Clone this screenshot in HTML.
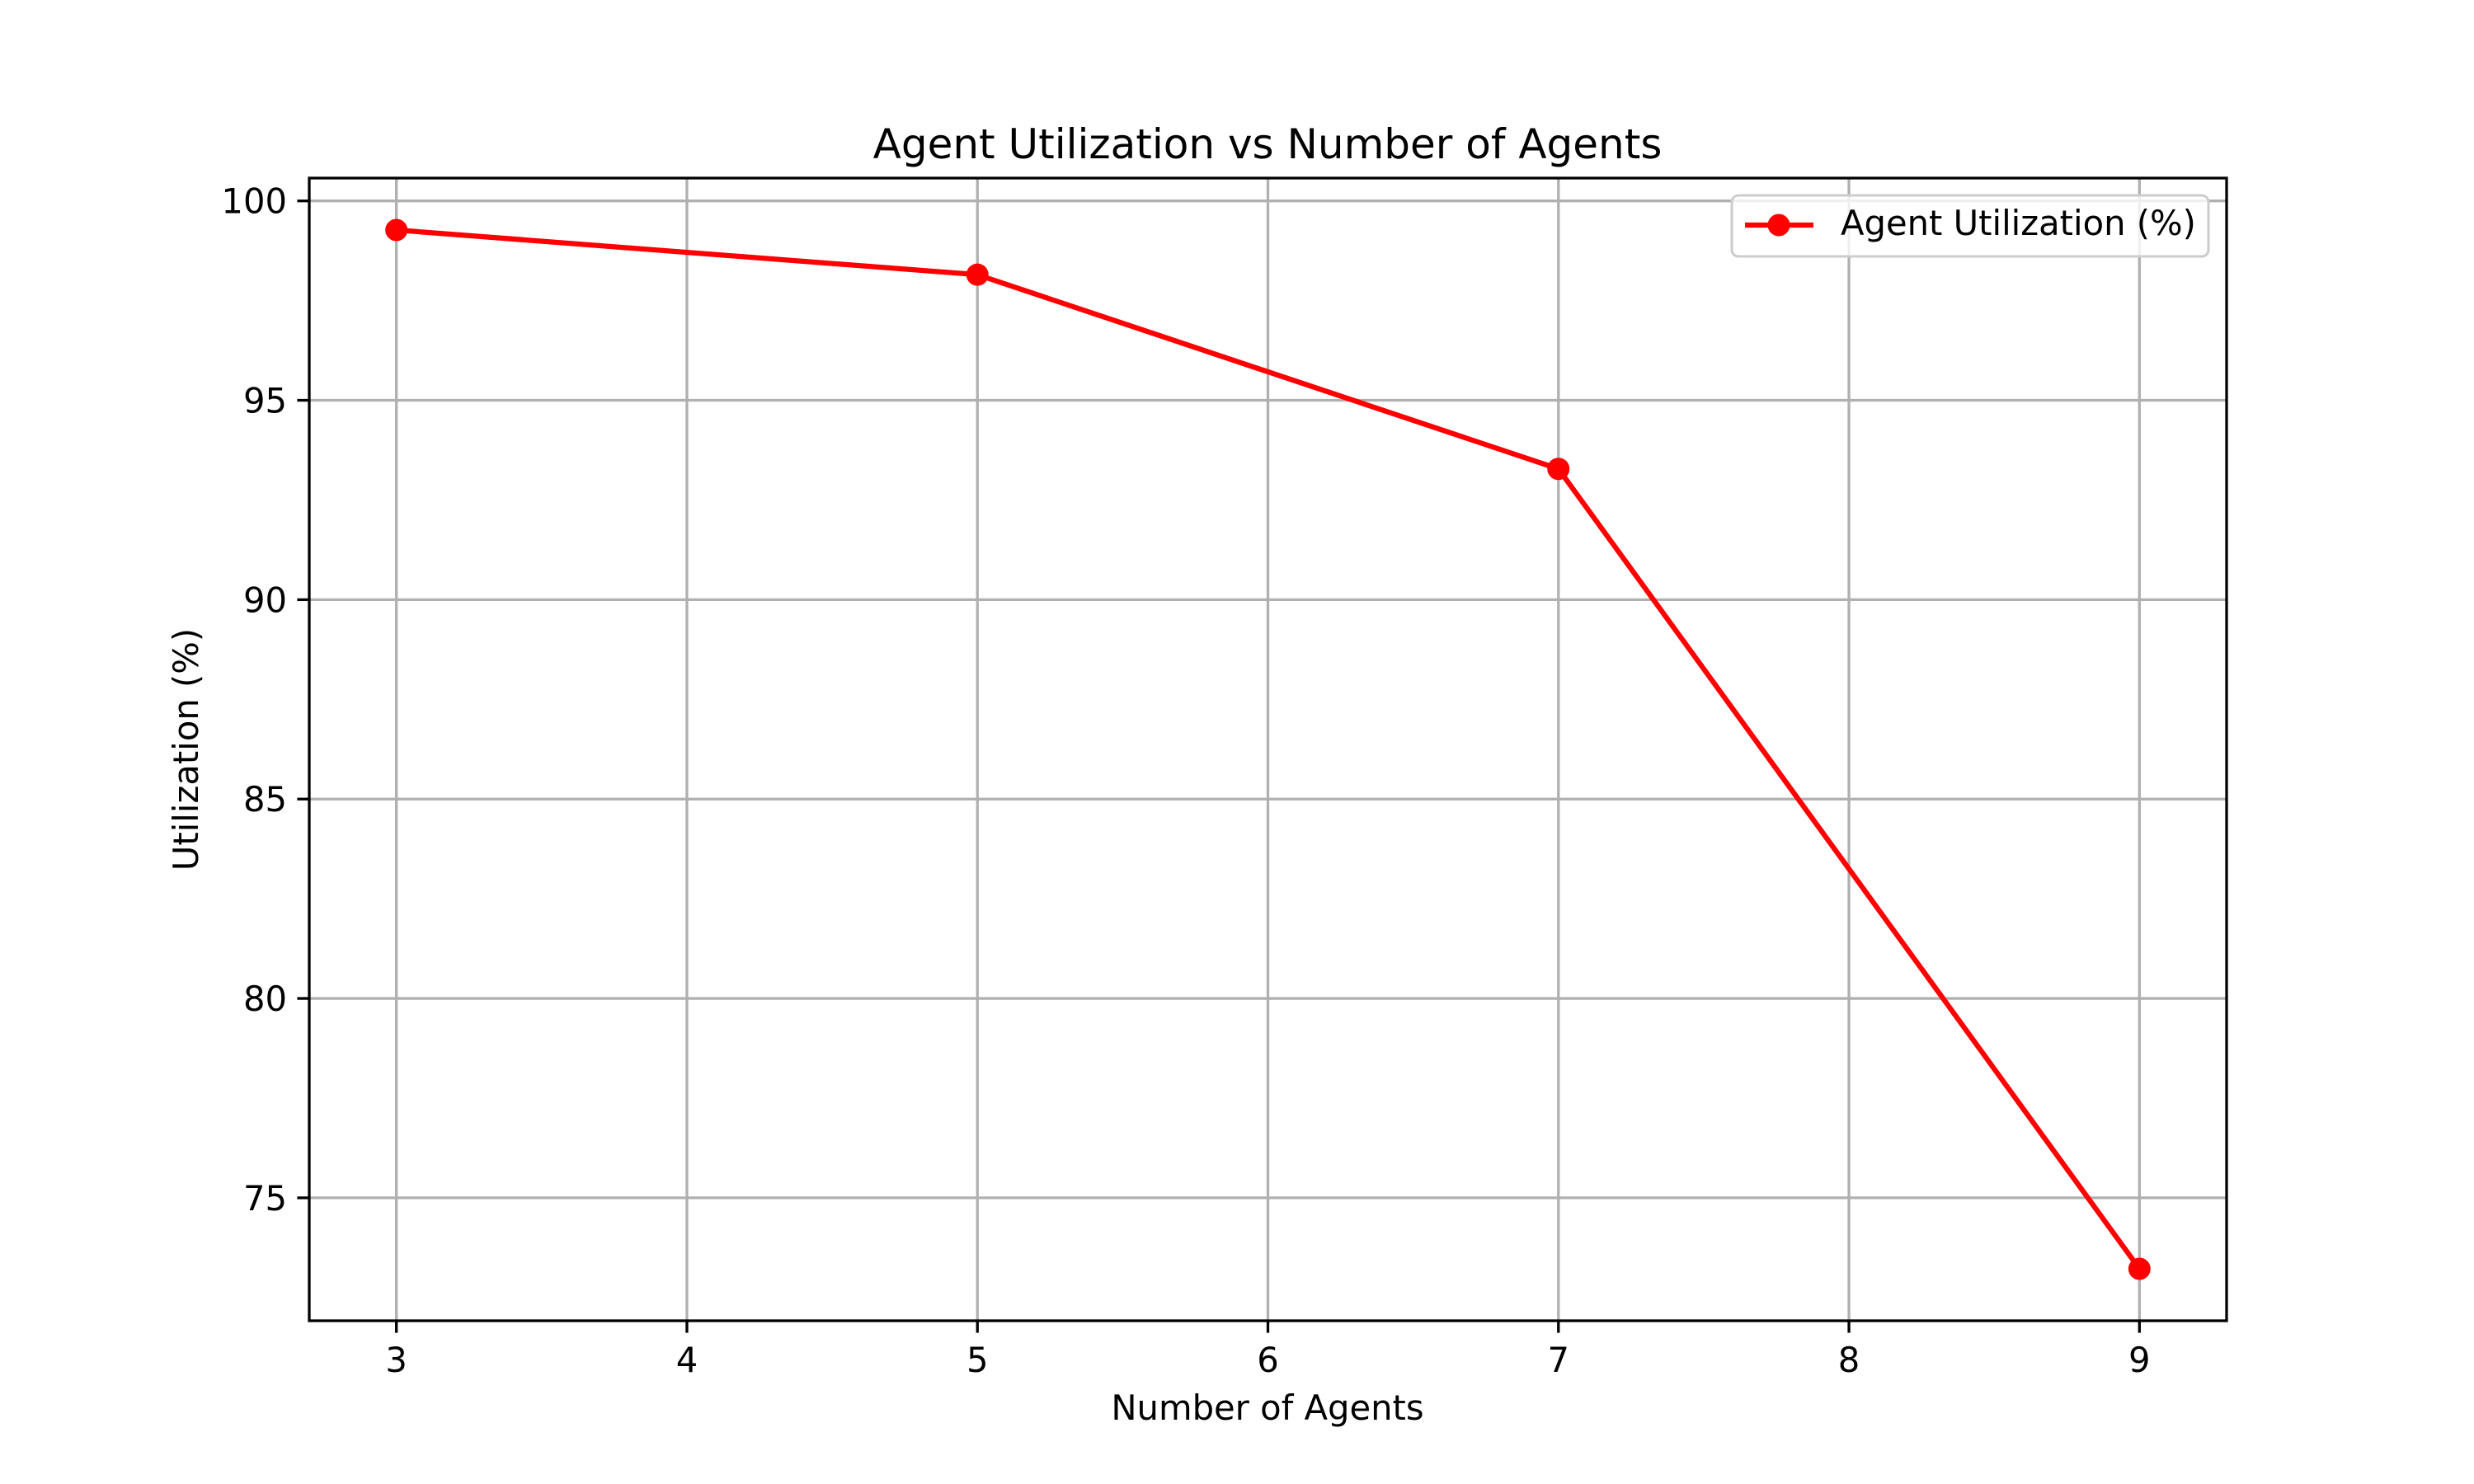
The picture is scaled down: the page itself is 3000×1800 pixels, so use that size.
<!DOCTYPE html>
<html><head><meta charset="utf-8"><style>
html,body{margin:0;padding:0;background:#fff;}
svg{display:block;font-family:"DejaVu Sans","Liberation Sans",sans-serif;}
</style></head><body>
<svg id="chart" width="3000" height="1800" viewBox="0 0 3000 1800" xmlns="http://www.w3.org/2000/svg">
<rect width="3000" height="1800" fill="#fff"/>
<g id="grid"></g>
<g id="xaxis"></g>
<g id="yaxis"></g>
<g id="series"></g>
<rect x="375" y="216" width="2325" height="1386" fill="none" stroke="#000" stroke-width="3.3"/>
<text x="1537" y="192" font-size="50" text-anchor="middle">Agent Utilization vs Number of Agents</text>
<text x="1537" y="1722" font-size="41.7" text-anchor="middle">Number of Agents</text>
<text x="0" y="0" font-size="41.7" text-anchor="middle" transform="translate(240,909) rotate(-90)">Utilization (%)</text>
<g>
<rect x="2100" y="237" width="578" height="74" rx="8" fill="#fff" fill-opacity="0.8" stroke="#ccc" stroke-width="3"/>
<line x1="2116" y1="273" x2="2199" y2="273" stroke="#ff0000" stroke-width="6.25"/>
<circle cx="2157" cy="273" r="13.5" fill="#ff0000"/>
<text x="2232" y="285" font-size="41.7">Agent Utilization (%)</text>
</g>
</svg>
<script>
const agents = [3, 5, 7, 9];
const utilization = [99.27, 98.15, 93.28, 73.22];
const xTicks = [3, 4, 5, 6, 7, 8, 9];
const yTicks = [75, 80, 85, 90, 95, 100];

const NS = "http://www.w3.org/2000/svg";
const L = 375, R = 2700, T = 216, B = 1602;
const xmin0 = Math.min(...agents), xmax0 = Math.max(...agents);
const ymin0 = Math.min(...utilization), ymax0 = Math.max(...utilization);
const xpad = (xmax0 - xmin0) * 0.05, ypad = (ymax0 - ymin0) * 0.05;
const xlo = xmin0 - xpad, xhi = xmax0 + xpad, ylo = ymin0 - ypad, yhi = ymax0 + ypad;
function sx(v){ return L + (v - xlo) / (xhi - xlo) * (R - L); }
function sy(v){ return B - (v - ylo) / (yhi - ylo) * (B - T); }
function mk(tag, attrs, parent){
  const e = document.createElementNS(NS, tag);
  for (const k in attrs) e.setAttribute(k, attrs[k]);
  parent.appendChild(e);
  return e;
}
const grid = document.getElementById('grid');
const xa = document.getElementById('xaxis');
const ya = document.getElementById('yaxis');
const ser = document.getElementById('series');

xTicks.forEach(t => {
  const x = sx(t);
  const g = mk('line', {x1:x, y1:T, x2:x, y2:B, stroke:'#b0b0b0', 'stroke-width':3.3}, grid);
  
  
  const tk = mk('line', {x1:x, y1:B, x2:x, y2:B+14.6, stroke:'#000', 'stroke-width':3.3}, xa);
  
  
  const lb = mk('text', {x:x, y:B+62, 'font-size':41.7, 'text-anchor':'middle'}, xa);
  lb.textContent = t;
  
  
});
yTicks.forEach(t => {
  const y = sy(t);
  const g = mk('line', {x1:L, y1:y, x2:R, y2:y, stroke:'#b0b0b0', 'stroke-width':3.3}, grid);
  
  
  const tk = mk('line', {x1:L-14.6, y1:y, x2:L, y2:y, stroke:'#000', 'stroke-width':3.3}, ya);
  
  
  const lb = mk('text', {x:L-27, y:y+15, 'font-size':41.7, 'text-anchor':'end'}, ya);
  lb.textContent = t;
  
  
});
const pts = agents.map((a,i) => sx(a) + ',' + sy(utilization[i])).join(' ');
const pl = mk('polyline', {points:pts, fill:'none', stroke:'#ff0000', 'stroke-width':6.25, 'stroke-linejoin':'round', 'stroke-linecap':'square'}, ser);


agents.forEach((a,i) => {
  const c = mk('circle', {cx:sx(a), cy:sy(utilization[i]), r:13.5, fill:'#ff0000'}, ser);
  
  
});
</script>
</body></html>
